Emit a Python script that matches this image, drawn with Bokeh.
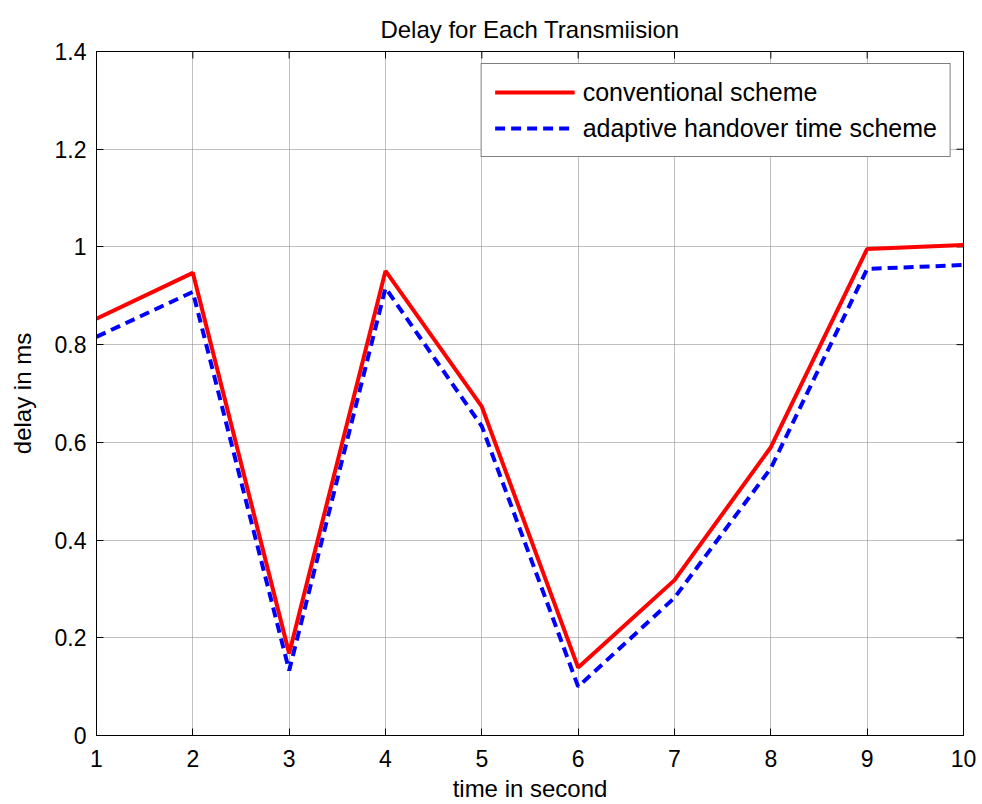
import math
from bokeh.plotting import figure
from bokeh.models import FixedTicker, Range1d, Legend, LegendItem
from bokeh.embed import file_html
from bokeh.resources import INLINE

time_s = [1, 2, 3, 4, 5, 6, 7, 8, 9, 10]
conventional = [0.853, 0.947, 0.168, 0.951, 0.673, 0.139, 0.318, 0.590, 0.996, 1.004]
adaptive = [0.816, 0.908, 0.133, 0.916, 0.633, 0.100, 0.282, 0.547, 0.955, 0.963]
y_ticks = [0, 0.2, 0.4, 0.6, 0.8, 1.0, 1.2, 1.4]
y_tick_labels = ["0", "0.2", "0.4", "0.6", "0.8", "1", "1.2", "1.4"]
x_ticks = [1, 2, 3, 4, 5, 6, 7, 8, 9, 10]
x_min, x_max = 1, 10
y_min, y_max = 0, 1.4

FONT = "Liberation Sans"

p = figure(frame_width=867, frame_height=684, output_backend="svg", toolbar_location=None,
           x_range=Range1d(x_min, x_max), y_range=Range1d(y_min, y_max),
           min_border_left=96, min_border_right=19, min_border_top=51, min_border_bottom=69,
           x_axis_label="time in second", y_axis_label="delay in ms",
           title="Delay for Each Transmiision")
p.background_fill_color = "white"
p.border_fill_color = "white"
p.outline_line_color = "black"
p.outline_line_width = 1

p.title.align = "center"
p.title.text_font = FONT
p.title.text_font_size = "24px"
p.title.text_font_style = "normal"
p.title.text_color = "black"
p.title.offset = 0
p.title.standoff = 18

for ax in (p.xaxis[0], p.yaxis[0]):
    ax.major_label_text_font = FONT
    ax.major_label_text_font_size = "23px"
    ax.major_label_text_color = "black"
    ax.axis_label_text_font = FONT
    ax.axis_label_text_font_size = "24px"
    ax.axis_label_text_font_style = "normal"
    ax.axis_label_text_color = "black"
    ax.major_tick_in = 7
    ax.major_tick_out = 0
    ax.minor_tick_in = 0
    ax.minor_tick_out = 0
    ax.axis_line_color = "black"
    ax.major_tick_line_color = "black"

p.xaxis[0].ticker = FixedTicker(ticks=x_ticks)
p.yaxis[0].ticker = FixedTicker(ticks=y_ticks)
p.yaxis[0].major_label_overrides = {t: l for t, l in zip(y_ticks, y_tick_labels)}
p.xaxis[0].major_label_standoff = 14
p.yaxis[0].major_label_standoff = 10
p.xaxis[0].axis_label_standoff = 5
p.yaxis[0].axis_label_standoff = 16

# inside tick marks on top and right edges (MATLAB box style)
p.scatter(x_ticks, [y_max] * len(x_ticks), marker="dash", size=14, angle=math.pi / 2,
          line_color="black", line_width=1)
p.scatter([x_max] * len(y_ticks), y_ticks, marker="dash", size=14,
          line_color="black", line_width=1)

p.xgrid.ticker = FixedTicker(ticks=x_ticks)
p.ygrid.ticker = FixedTicker(ticks=y_ticks)
for g in (p.xgrid[0], p.ygrid[0]):
    g.grid_line_color = "#808080"
    g.grid_line_dash = "1 1"
    g.grid_line_width = 1

r1 = p.line(time_s, conventional, line_color="#ff0000", line_width=4)
r2 = p.line(time_s, adaptive, line_color="#0000ff", line_width=4, line_dash="10 6")

legend = Legend(items=[LegendItem(label="conventional scheme", renderers=[r1]),
                       LegendItem(label="adaptive handover time scheme", renderers=[r2])],
                location="top_right")
legend.label_text_font = FONT
legend.label_text_font_size = "25px"
legend.label_text_color = "black"
legend.glyph_width = 80
legend.glyph_height = 30
legend.label_height = 30
legend.spacing = 6
legend.padding = 13
legend.margin = 12
legend.label_standoff = 8
legend.border_line_color = "black"
legend.border_line_width = 1
legend.background_fill_alpha = 1
p.add_layout(legend)

open("out.html", "w").write(file_html(p, INLINE))
